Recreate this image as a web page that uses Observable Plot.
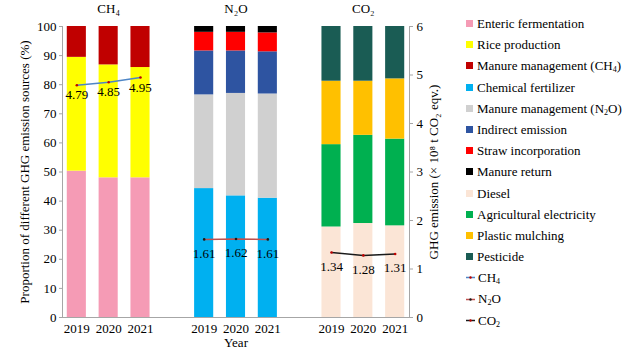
<!DOCTYPE html>
<html><head><meta charset="utf-8">
<script src="https://cdn.jsdelivr.net/npm/d3@7"></script>
<script src="https://cdn.jsdelivr.net/npm/@observablehq/plot@0.6"></script>
<style>
body{margin:0;background:#fff;}
#wrap{position:relative;width:639px;height:353px;font-family:"Liberation Serif","DejaVu Serif",serif;}
#legend{position:absolute;left:466px;top:13px;font-size:13px;color:#000;font-family:"Liberation Serif","DejaVu Serif",serif;}
#legend .row{height:21.2px;line-height:21.2px;white-space:nowrap;display:flex;align-items:center;}
#legend .sw{display:inline-block;width:7px;height:7px;margin-right:4px;}
#legend svg{margin-right:3px;}
sub{font-size:0.62em;vertical-align:-0.3em;line-height:0;}
</style></head>
<body><div id="wrap"><div id="chart"></div><div id="legend"></div></div>
<script>
const years = ["2019", "2020", "2021"];
const gases = ["CH₄", "N₂O", "CO₂"];
const ch4Sources = ["Enteric fermentation", "Rice production", "Manure management (CH₄)"];
const ch4Shares = [[50.3, 48.0, 48.0], [39.1, 38.8, 37.9], [10.6, 13.2, 14.1]];
const n2oSources = ["Chemical fertilizer", "Manure management (N₂O)", "Indirect emission", "Straw incorporation", "Manure return"];
const n2oShares = [[44.3, 41.8, 41.0], [32.2, 35.2, 35.8], [15.1, 14.6, 14.5], [6.4, 6.4, 6.5], [2.0, 2.0, 2.2]];
const co2Sources = ["Diesel", "Agricultural electricity", "Plastic mulching", "Pesticide"];
const co2Shares = [[31.1, 32.3, 31.5], [28.3, 30.3, 29.8], [21.8, 18.6, 20.7], [18.8, 18.8, 18.0]];
const ch4Totals = [4.79, 4.85, 4.95];
const n2oTotals = [1.61, 1.62, 1.61];
const co2Totals = [1.34, 1.28, 1.31];
const leftTicks = [0, 10, 20, 30, 40, 50, 60, 70, 80, 90, 100];
const rightTicks = [0, 1, 2, 3, 4, 5, 6];
const rightMax = 6;

const sourceColors = ["#f59bb5", "#ffff00", "#c00000", "#00b0f0", "#d0d0d0", "#2e54a1", "#ff0000", "#000000", "#fbe5d6", "#00b050", "#ffc000", "#1a5c54"];
const lineColors = {"CH₄": "#4f86c6", "N₂O": "#c0504d", "CO₂": "#1a1a1a"};
const markerColors = {"CH₄": "#c00000", "N₂O": "#1a1a1a", "CO₂": "#c00000"};

const key = (g, y) => g + " " + y;
const groups = [
  {gas: gases[0], sources: ch4Sources, shares: ch4Shares, totals: ch4Totals},
  {gas: gases[1], sources: n2oSources, shares: n2oShares, totals: n2oTotals},
  {gas: gases[2], sources: co2Sources, shares: co2Shares, totals: co2Totals}
];
const barKeys = groups.flatMap(g => years.map(y => key(g.gas, y)));
const xDomain = [...barKeys.slice(0, 3), "gap1", ...barKeys.slice(3, 6), "gap2", ...barKeys.slice(6)];
const allSources = groups.flatMap(g => g.sources);

const barData = [];
groups.forEach(g => g.sources.forEach((s, si) => years.forEach((y, yi) =>
  barData.push({key: key(g.gas, y), source: s, value: g.shares[si][yi]}))));
const lineData = groups.flatMap(g => years.map((y, yi) => ({gas: g.gas, key: key(g.gas, y), total: g.totals[yi], yv: g.totals[yi] / rightMax * 100})));

const axisGray = "#a6a6a6";
const marks = [
  Plot.barY(barData, {x: "key", y: "value", fill: "source"}),
  Plot.ruleY([0], {stroke: axisGray}),
  Plot.frame({anchor: "left", stroke: axisGray}),
  Plot.frame({anchor: "right", stroke: axisGray}),
  Plot.axisY({anchor: "left", ticks: leftTicks, tickSize: 3, tickPadding: 3, stroke: axisGray, label: null}),
  Plot.axisY({anchor: "right", ticks: rightTicks.map(v => v / rightMax * 100), tickFormat: d => Math.round(d * rightMax / 100), tickSize: 3, tickPadding: 4, stroke: axisGray, label: null}),
  Plot.axisX({ticks: barKeys, tickFormat: k => k.split(" ")[1], tickSize: 0, tickPadding: 6, label: null}),
  Plot.text(groups, {x: g => key(g.gas, years[1]), text: "gas", frameAnchor: "top", lineAnchor: "middle", dy: -18}),
  Plot.text(["Proportion of different GHG emission sources (%)"], {frameAnchor: "left", textAnchor: "middle", rotate: -90, dx: -38}),
  Plot.text(["GHG emission (× 10⁸ t CO₂ eqv.)"], {frameAnchor: "right", textAnchor: "middle", rotate: -90, dx: 24}),
  Plot.text(["Year"], {frameAnchor: "bottom", dy: 29})
];
for (const g of gases) {
  const d = lineData.filter(r => r.gas === g);
  marks.push(Plot.line(d, {x: "key", y: "yv", stroke: lineColors[g], strokeWidth: 1.5}));
  marks.push(Plot.dot(d, {x: "key", y: "yv", r: 1.3, fill: markerColors[g], stroke: "none"}));
  marks.push(Plot.text(d, {x: "key", y: "yv", text: r => r.total.toFixed(2), dy: g === "CH₄" ? 10 : 14, fontSize: 13}));
}

const chart = Plot.plot({
  width: 639, height: 353,
  marginLeft: 62, marginRight: 230, marginTop: 26, marginBottom: 36,
  style: {fontFamily: "'Liberation Serif', 'DejaVu Serif', serif", fontSize: "13px", color: "#000", background: "#fff"},
  x: {domain: xDomain, paddingInner: 0.4, paddingOuter: 0.15, round: false, axis: null},
  y: {domain: [0, 100], axis: null},
  color: {domain: allSources, range: sourceColors},
  marks
});
document.getElementById("chart").appendChild(chart);

const html = s => s.replace(/₄/g, "<sub>4</sub>").replace(/₂/g, "<sub>2</sub>");
const legend = document.getElementById("legend");
allSources.forEach((s, i) => {
  const row = document.createElement("div");
  row.className = "row";
  row.innerHTML = `<span class="sw" style="background:${sourceColors[i]}"></span><span>${html(s)}</span>`;
  legend.appendChild(row);
});
gases.forEach(g => {
  const row = document.createElement("div");
  row.className = "row";
  row.innerHTML = `<svg width="9" height="7"><line x1="0" x2="9" y1="3.5" y2="3.5" stroke="${lineColors[g]}" stroke-width="1.5"/><circle cx="4.5" cy="3.5" r="1.2" fill="${markerColors[g]}"/></svg><span>${html(g)}</span>`;
  legend.appendChild(row);
});
</script></body></html>
